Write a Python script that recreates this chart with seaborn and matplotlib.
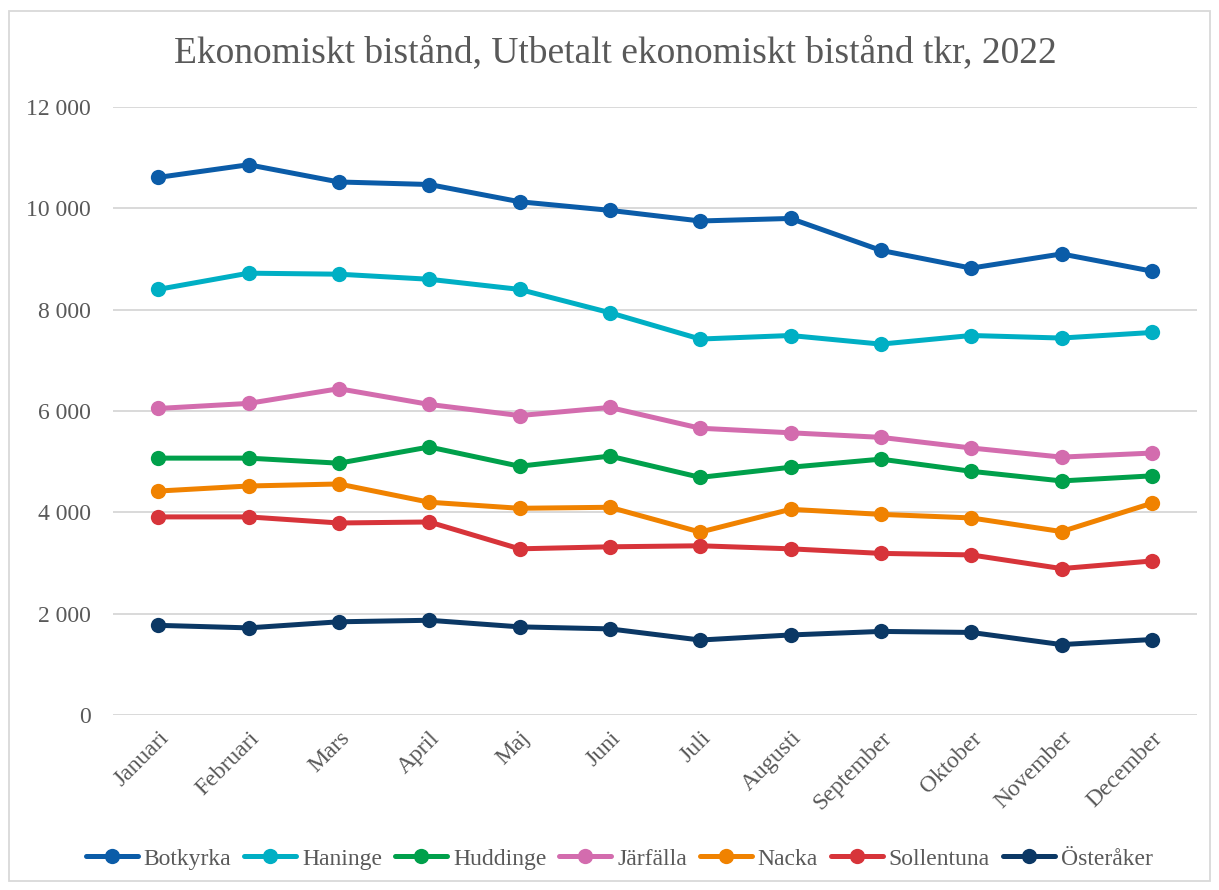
import matplotlib
matplotlib.use("Agg")
import matplotlib.pyplot as plt
import seaborn as sns
import pandas as pd
from matplotlib.ticker import FuncFormatter

months = ["Januari", "Februari", "Mars", "April", "Maj", "Juni", "Juli",
          "Augusti", "September", "Oktober", "November", "December"]

botkyrka   = [10610, 10860, 10520, 10470, 10130, 9960, 9750, 9800, 9170, 8820, 9100, 8760]
haninge    = [8400, 8720, 8700, 8600, 8400, 7940, 7420, 7490, 7320, 7490, 7440, 7550]
huddinge   = [5070, 5070, 4970, 5290, 4910, 5110, 4690, 4890, 5050, 4810, 4620, 4720]
jarfalla   = [6050, 6150, 6440, 6130, 5910, 6070, 5660, 5570, 5480, 5270, 5090, 5170]
nacka      = [4420, 4520, 4560, 4200, 4080, 4100, 3610, 4060, 3960, 3890, 3620, 4180]
sollentuna = [3910, 3910, 3790, 3810, 3280, 3320, 3340, 3280, 3190, 3160, 2890, 3040]
osteraker  = [1770, 1720, 1840, 1870, 1740, 1700, 1480, 1580, 1650, 1630, 1390, 1490]

series_names = ["Botkyrka", "Haninge", "Huddinge", "Järfälla", "Nacka", "Sollentuna", "Österåker"]
series_values = [botkyrka, haninge, huddinge, jarfalla, nacka, sollentuna, osteraker]
colors = ["#0B5CA8", "#00AFC4", "#00A04B", "#D36CAE", "#F08200", "#D7343A", "#0B3865"]

rows = []
for name, vals in zip(series_names, series_values):
    for i, v in enumerate(vals):
        rows.append({"pos": i, "Månad": months[i], "Kommun": name, "tkr": v})
df = pd.DataFrame(rows)

sns.set_theme(style="white")
plt.rcParams["font.family"] = ["Liberation Serif", "DejaVu Serif"]
text_color = "#595959"

fig = plt.figure(figsize=(12.19, 8.90), dpi=100)
ax = fig.add_axes([0.0927, 0.1966, 0.8893, 0.6832])

sns.lineplot(data=df, x="pos", y="tkr", hue="Kommun", hue_order=series_names,
             palette=dict(zip(series_names, colors)), marker="o", markersize=11,
             markeredgewidth=0, linewidth=3.6, ax=ax, legend=True, zorder=3)

ax.set_xlim(-0.5, 11.5)
ax.set_ylim(0, 12000)
ax.set_yticks(range(0, 12001, 2000))
ax.yaxis.set_major_formatter(FuncFormatter(lambda v, p: f"{int(v):,}".replace(",", " ")))
ax.set_xticks(range(12))
ax.set_xticklabels(months, rotation=45, ha="right", rotation_mode="anchor")
ax.grid(axis="y", color="#d9d9d9", linewidth=1.4, zorder=0)
ax.grid(axis="x", visible=False)
for s in ax.spines.values():
    s.set_visible(False)
ax.tick_params(axis="both", length=0, colors=text_color, labelsize=17)
ax.tick_params(axis="y", pad=16)
ax.tick_params(axis="x", pad=9)
for lab in ax.get_xticklabels() + ax.get_yticklabels():
    lab.set_color(text_color)
ax.set_xlabel("")
ax.set_ylabel("")

fig.text(0.505, 0.941, "Ekonomiskt bistånd, Utbetalt ekonomiskt bistånd tkr, 2022",
         ha="center", va="center", fontsize=27, color=text_color)

handles, labels = ax.get_legend_handles_labels()
ax.legend_.remove()
leg = fig.legend(handles, labels, loc="center", bbox_to_anchor=(0.508, 0.035), ncol=7,
                 frameon=False, fontsize=17, handlelength=2.2, handletextpad=0.25,
                 columnspacing=0.55, labelcolor=text_color)

border = plt.Rectangle((0.007, 0.01), 0.986, 0.978, transform=fig.transFigure,
                       fill=False, edgecolor="#d9d9d9", linewidth=1.3)
fig.patches.append(border)

fig.savefig("out.png", dpi=100)
